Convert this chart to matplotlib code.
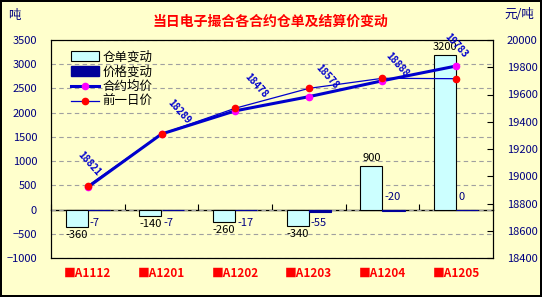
import numpy as np
import matplotlib
matplotlib.use("Agg")
import matplotlib.pyplot as plt
from matplotlib.patches import Patch
from matplotlib.lines import Line2D

plt.rcParams['font.family'] = ['Noto Sans CJK SC', 'DejaVu Sans']

# data
contracts = ["■A1112", "■A1201", "■A1202", "■A1203", "■A1204", "■A1205"]
stock_change = [-360, -140, -260, -340, 900, 3200]
price_change = [-7, -7, -17, -55, -20, 0]
avg_price = [18920, 19310, 19480, 19584, 19701, 19809]
prev_price = [18930, 19310, 19499, 19645, 19719, 19716]
price_labels = ["18821", "18289", "18478", "18578", "18888", "19783"]

bg = "#FFFFCC"
navy = "#000080"

fig = plt.figure(figsize=(5.42, 2.97), dpi=100, facecolor=bg)
fig.patch.set_edgecolor("black")
fig.patch.set_linewidth(1.5)

ax = fig.add_axes([51/542, 39/297, 442/542, 218/297])
ax.set_facecolor(bg)
x = np.arange(len(contracts))
w = 0.3

b1 = ax.bar(x - w/2, stock_change, w, color="#CCFFFF", edgecolor="black", linewidth=0.8, zorder=2)
b2 = ax.bar(x + w/2, price_change, w, color="#000099", edgecolor="#000099", linewidth=0.8, zorder=2)

ax.set_xlim(-0.5, len(contracts) - 0.5)
ax.set_ylim(-1000, 3500)
ax.set_yticks(np.arange(-1000, 3501, 500))
ax.yaxis.grid(True, linestyle=(0, (4, 3)), color="#A0A0A0", linewidth=0.8)
ax.set_axisbelow(True)
ax.tick_params(axis="y", labelsize=8, labelcolor=navy, length=0, pad=10)
ax.set_xticks(x)
ax.set_xticklabels(contracts, color="#FF0000", fontweight="bold", fontsize=8.5)
ax.tick_params(axis="x", length=0, pad=6)
for s in ax.spines.values():
    s.set_linewidth(0.8)

# zero line with category boundary ticks
zero = ax.secondary_xaxis(1000/4500)
zero.set_xticks(np.arange(-0.5, len(contracts), 1.0))
zero.tick_params(direction="in", length=4, labelbottom=False, labeltop=False)
zero.spines["bottom"].set_linewidth(1.0)

# bar labels
for i, v in enumerate(stock_change):
    if v < 0:
        ax.annotate(str(v), (x[i] - w/2, v), xytext=(0, -3), textcoords="offset pixels",
                    ha="center", va="top", fontsize=8, color="black")
    else:
        ax.annotate(str(v), (x[i] - w/2, v), xytext=(0, 3), textcoords="offset pixels",
                    ha="center", va="bottom", fontsize=8, color="black")
for i, v in enumerate(price_change):
    below = i < 4
    ax.annotate(str(v), (x[i], 0), xytext=(2, -8 if below else 8), textcoords="offset pixels",
                ha="left", va="top" if below else "bottom", fontsize=8, color=navy)

ax2 = ax.twinx()
ax2.set_ylim(18400, 20000)
ax2.set_yticks(np.arange(18400, 20001, 200))
ax2.tick_params(axis="y", labelsize=8, labelcolor=navy, direction="in", length=4, pad=10)
for s in ax2.spines.values():
    s.set_linewidth(0.8)

ax2.plot(x, avg_price, color="#0000CC", linewidth=2.2, marker="o", markersize=4.5,
         markerfacecolor="#FF00FF", markeredgecolor="#FF00FF", zorder=3)
ax2.plot(x, prev_price, color="#0000CC", linewidth=0.9, marker="o", markersize=4.5,
         markerfacecolor="#FF0000", markeredgecolor="#FF0000", zorder=4)

lbl_dx = [1, 18, 21, 18, 15, 0]
lbl_dy = [23, 22, 25, 20, 16, 20]
for i, t in enumerate(price_labels):
    ax2.annotate(t, (x[i], avg_price[i]), xytext=(lbl_dx[i], lbl_dy[i]), textcoords="offset pixels",
                 ha="center", va="center", rotation=-48, fontsize=7, fontweight="bold",
                 color="#0000CC", zorder=5)

handles = [
    Patch(facecolor="#CCFFFF", edgecolor="black", linewidth=0.8),
    Patch(facecolor="#000099", edgecolor="#000099"),
    Line2D([], [], color="#0000CC", linewidth=2.2, marker="o", markersize=4.5,
           markerfacecolor="#FF00FF", markeredgecolor="#FF00FF"),
    Line2D([], [], color="#0000CC", linewidth=0.9, marker="o", markersize=4.5,
           markerfacecolor="#FF0000", markeredgecolor="#FF0000"),
]
ax2.legend(handles, ["仓单变动", "价格变动", "合约均价", "前一日价"], loc="upper left",
           bbox_to_anchor=(0.035, 0.975), frameon=False, fontsize=9, handlelength=2.2,
           handleheight=0.8, labelspacing=0.15, handletextpad=0.3, borderaxespad=0)

fig.text(270/542, 1 - 22/297, "当日电子撮合各合约仓单及结算价变动", color="#FF0000",
         fontsize=10, fontweight="bold", ha="center", va="center")
fig.text(8/542, 1 - 15/297, "吨", color=navy, fontsize=9, ha="left", va="center")
fig.text(534/542, 1 - 15/297, "元/吨", color=navy, fontsize=9, ha="right", va="center")

fig.savefig("out.png", dpi=100, facecolor=bg, edgecolor="black")
